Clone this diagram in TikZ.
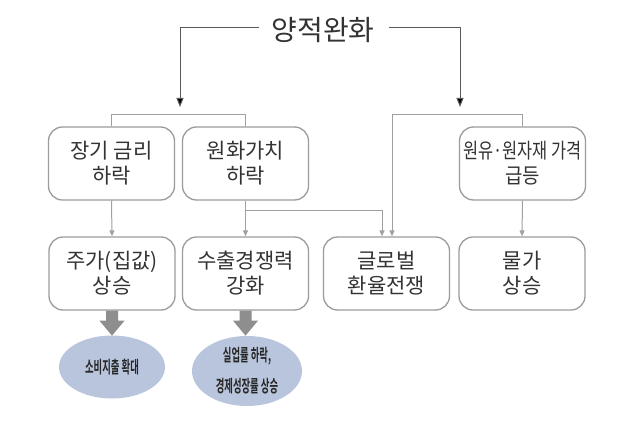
\documentclass[tikz,border=0pt]{standalone}
\usepackage{fontspec}
\usepackage{graphicx}
\newfontfamily\kr{Noto Sans CJK KR}
\newfontfamily\krb{Noto Sans CJK KR Bold}
\usetikzlibrary{arrows.meta,shapes.geometric}
\definecolor{boxline}{HTML}{9C9C9C}
\definecolor{txt}{HTML}{333333}
\definecolor{conn}{HTML}{A0A0A0}
\definecolor{mainline}{HTML}{5A5A5A}
\definecolor{ellfill}{HTML}{B9C5DC}
\definecolor{bigarrow}{HTML}{8E8E8E}
\tikzset{
  box/.style={draw=boxline, line width=1.3pt, rounded corners=14pt, minimum width=126pt, minimum height=73pt, align=center, text=txt, font=\kr\fontsize{21}{25}\selectfont, inner sep=0pt},
  ell/.style={ellipse, fill=ellfill, draw=none, align=center, inner sep=0pt, font=\krb\fontsize{17}{31}\selectfont, text=black!85},
  link/.style={draw=conn, line width=1pt, -{Triangle[width=5pt,length=6pt]}},
  plain/.style={draw=conn, line width=1pt},
  mainarr/.style={draw=mainline, line width=1pt, -{Triangle[width=7pt,length=9pt,fill=black]}},
  fat/.style={fill=bigarrow, draw=none}
}
\begin{document}
\begin{tikzpicture}[x=1pt,y=-1pt]
\useasboundingbox[fill=white] (0,0) rectangle (639,425);
% title
\node[font=\kr\fontsize{28}{30}\selectfont, text=black!80, inner sep=0pt] (title) at (323,30) {양적완화};
% first row
\node[box] (b1) at (111.5,163.5) {장기 금리\\하락};
\node[box] (b2) at (245.5,163.5) {원화가치\\하락};
\node[box] (b3) at (522.5,163.5) {\scalebox{0.78}[1]{원유·원자재 가격}\\\scalebox{0.9}[1]{급등}};
% second row
\node[box] (c1) at (112,273.5) {주가(집값)\\상승};
\node[box] (c2) at (245.5,273.5) {수출경쟁력\\강화};
\node[box] (c3) at (386.5,273.5) {글로벌\\환율전쟁};
\node[box] (c4) at (522,273.5) {물가\\상승};
% ellipses
\node[ell, minimum width=106pt, minimum height=63pt] (e1) at (112,367) {\scalebox{0.55}[1]{소비지출 확대}};
\node[ell, minimum width=110pt, minimum height=70pt] (e2) at (247,371) {\scalebox{0.55}[1]{실업률 하락,}\\\scalebox{0.55}[1]{경제성장률 상승}};
% coordinates
\coordinate (lt) at (180,28);
\coordinate (rt) at (460,28);
\coordinate (la) at (180,107);
\coordinate (ra) at (460,107);
% title connectors
\draw[mainarr] ([xshift=-12pt]title.west |- lt) -- (lt) -- (la);
\draw[mainarr] ([xshift=14pt]title.east |- rt) -- (rt) -- (ra);
% brackets
\draw[plain] (b1.north) -- ++(0,-12) -| (b2.north);
\coordinate (r3) at ([xshift=5.5pt]c3.north);
\coordinate (l3) at ([xshift=-4.5pt]c3.north);
\draw[plain] (b3.north) -- ++(0,-12) -| ([yshift=10pt]r3);
\draw[link] ([yshift=10pt]r3) -- (r3);
% row links
\draw[link] (b1.south) -- (c1.north);
\draw[link] (b2.south) -- (c2.north);
\draw[link] (b3.south) -- (c4.north);
\draw[plain] ([yshift=-10pt]b2.south) -| ([yshift=10pt]l3);
\draw[link] ([yshift=10pt]l3) -- (l3);
% fat arrows
\foreach \s/\t in {c1/e1, c2/e2}{
  \path[fat] ([xshift=-6pt]\s.south) -- ([xshift=6pt]\s.south) -- ([xshift=6pt,yshift=-10pt]\s.south) -- ([xshift=12.5pt,yshift=-10pt]\s.south) -- ([yshift=-25pt]\s.south) -- ([xshift=-12.5pt,yshift=-10pt]\s.south) -- ([xshift=-6pt,yshift=-10pt]\s.south) -- cycle;
}
\end{tikzpicture}
\end{document}
